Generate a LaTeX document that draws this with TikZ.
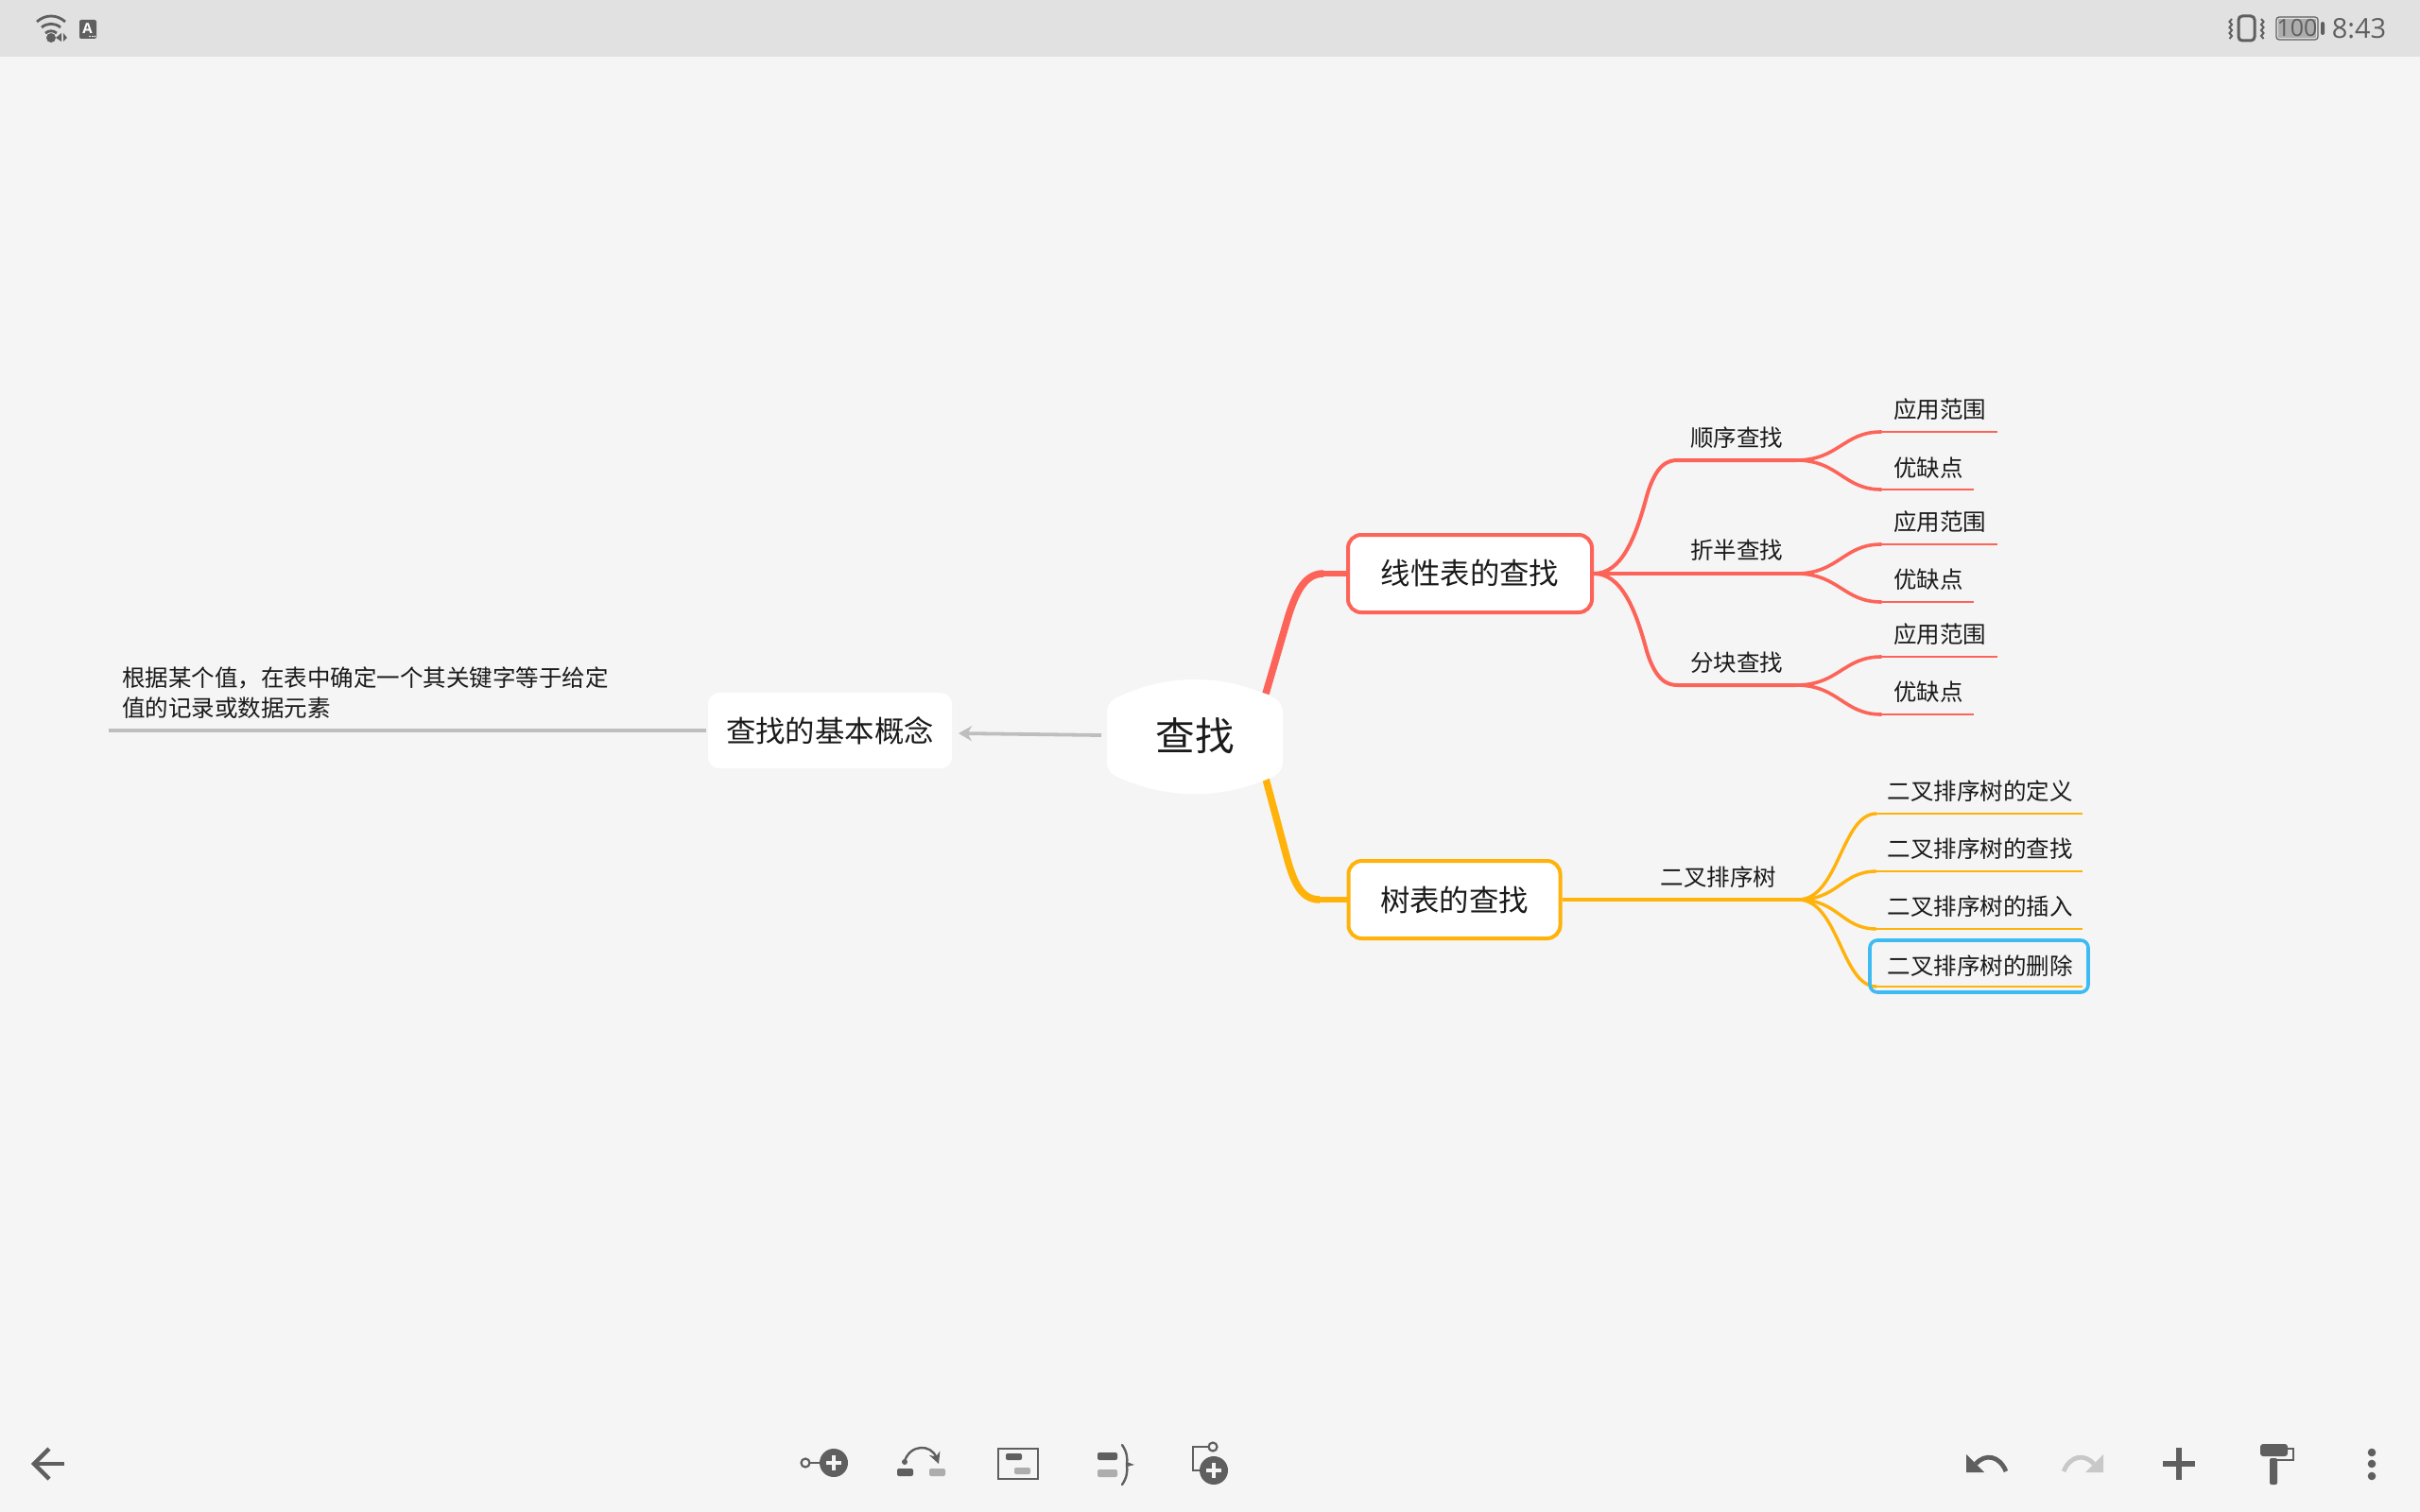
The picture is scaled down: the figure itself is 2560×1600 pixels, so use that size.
\documentclass[tikz,border=0pt]{standalone}
\usepackage{fontspec}
\usetikzlibrary{arrows.meta}
\newfontfamily\cjk{Noto Sans CJK SC}
\newfontfamily\uifont{Open Sans}
\definecolor{bgc}{HTML}{F5F5F5}
\definecolor{barc}{HTML}{E1E1E1}
\definecolor{redc}{HTML}{FD6459}
\definecolor{yelc}{HTML}{FFB20A}
\definecolor{grayc}{HTML}{BEBEBE}
\definecolor{bluec}{HTML}{3DBBF2}
\definecolor{icond}{HTML}{5F5F5F}
\definecolor{iconl}{HTML}{ADADAD}
\definecolor{iconf}{HTML}{C8C8C8}
\definecolor{txt}{HTML}{1A1A1A}
\tikzset{
  rootlabel/.style={font=\cjk\fontsize{20.8}{25}\selectfont,text=txt,inner sep=0pt,minimum width=93pt,minimum height=60pt},
  topicbox/.style={font=\cjk\fontsize{15.7}{20}\selectfont,text=txt,fill=white,rounded corners=7pt,inner sep=0pt,minimum height=41pt,line width=2pt},
  sublabel/.style={font=\cjk\fontsize{12.25}{16}\selectfont,text=txt,inner sep=0pt,anchor=west},
  notelabel/.style={font=\cjk\fontsize{12.25}{16}\selectfont,text=txt,inner sep=0pt,anchor=west,align=left},
  wirea/.style={line width=3.8pt,line cap=butt},
  wireb/.style={line width=2.9pt,line cap=butt},
  wirec/.style={line width=2pt,line cap=round},
  wired/.style={line width=1.2pt},
  wiree/.style={line width=1.7pt},
  iconline/.style={draw=icond,line width=1.1pt},
  bigplus/.style={draw=bgc,line width=1.6pt}
}
\begin{document}
\begin{tikzpicture}[x=0.5pt,y=-0.5pt]
\useasboundingbox (0,0) rectangle (2560,1600);
\fill[bgc] (0,0) rectangle (2560,1600);
\fill[barc] (0,0) rectangle (2560,60);

% ---------- named free ends
\coordinate (rootNE) at (1339,734);
\coordinate (rootSE) at (1339,824);
\coordinate (seqJ) at (1900,487);
\coordinate (binJ) at (1900,607);
\coordinate (blkJ) at (1900,725);
\coordinate (bstJ) at (1902,952);

% ---------- topic nodes
\node[topicbox,draw=redc,minimum width=129pt] (linear) at (1555,607) {\raisebox{1.4pt}{线性表的查找}};
\node[topicbox,draw=yelc,minimum width=112pt] (tree) at (1538.5,952) {\raisebox{1.1pt}{树表的查找}};
\node[topicbox,rounded corners=6pt,minimum width=129pt,minimum height=40pt] (basic) at (878,773) {\raisebox{0.6pt}{查找的基本概念}};

% ---------- main branches
\draw[redc,wirea] (rootNE) -- (1362,655) .. controls (1371,625) and (1381,607) .. (1400,607);
\draw[redc,wireb] (1398,607) -- (linear.west);
\draw[yelc,wirea] (rootSE) -- (1358,895) .. controls (1367,930) and (1374,952) .. (1396,952);
\draw[yelc,wireb] (1394,952) -- (tree.west);

% ---------- red second level
\draw[redc,wirec] (linear.east) .. controls (1715,607) and (1730,570) .. (1742,525) .. controls (1752,490) and (1765,487) .. (1775,487) -- (seqJ);
\draw[redc,wirec] (linear.east) -- (binJ);
\draw[redc,wirec] (linear.east) .. controls (1715,607) and (1730,644) .. (1742,689) .. controls (1752,722) and (1765,725) .. (1775,725) -- (blkJ);

\foreach \j/\uy/\my/\ly/\nn in {seqJ/457/487/518/a,binJ/576/607/637/b,blkJ/695/725/756/c}{
  \coordinate (end\nn1) at (2113,\uy);
  \coordinate (end\nn2) at (2088,\ly);
  \coordinate (bend\nn1) at (1990,\uy);
  \coordinate (bend\nn2) at (1990,\ly);
  \draw[redc,wirec,line width=1.8pt] (\j) .. controls (1945,\my) and (1950,\uy) .. (bend\nn1);
  \draw[redc,wirec,line width=1.8pt] (\j) .. controls (1945,\my) and (1950,\ly) .. (bend\nn2);
  \draw[redc,wired] (bend\nn1) -- (end\nn1);
  \draw[redc,wired] (bend\nn2) -- (end\nn2);
}

% ---------- yellow second level
\draw[yelc,wiree,line width=2.2pt] (tree.east) -- (bstJ);
\foreach \yy/\nn in {861/p,922/q,983/r,1044/s}{
  \coordinate (ybend\nn) at (1985,\yy);
  \coordinate (yend\nn) at (2203,\yy);
  \draw[yelc,wiree] (bstJ) .. controls (1945,952) and (1948,\yy) .. (ybend\nn);
  \draw[yelc,wired,line width=1.4pt] (ybend\nn) -- (yend\nn);
}

% ---------- selected box
\node[draw=bluec,line width=1.8pt,rounded corners=4pt,minimum width=115.5pt,minimum height=27.5pt,inner sep=0pt] (selbox) at (2093.5,1022.5) {};

% ---------- labels
\node[sublabel] (seq) at (1788,463) {顺序查找};
\node[sublabel] (bin) at (1788,582) {折半查找};
\node[sublabel] (blk) at (1788,701) {分块查找};
\node[sublabel] (a1) at (2003,433) {应用范围};
\node[sublabel] (a2) at (2003,495) {优缺点};
\node[sublabel] (b1) at (2003,552) {应用范围};
\node[sublabel] (b2) at (2003,613) {优缺点};
\node[sublabel] (c1) at (2003,671) {应用范围};
\node[sublabel] (c2) at (2003,732) {优缺点};
\node[sublabel] (bst) at (1756.5,928) {二叉排序树};
\node[sublabel] (t1) at (1996.5,837) {二叉排序树的定义};
\node[sublabel] (t2) at (1996.5,898) {二叉排序树的查找};
\node[sublabel] (t3) at (1996.5,959) {二叉排序树的插入};
\node[sublabel] (t4) at (1996.5,1022) {二叉排序树的删除};

% ---------- root
\fill[white] (1171,755) .. controls (1171,745) and (1176,740) .. (1184,737)
  .. controls (1235,713) and (1293,713) .. (1344,737)
  .. controls (1352,740) and (1357,745) .. (1357,755)
  -- (1357,805) .. controls (1357,815) and (1352,820) .. (1344,823)
  .. controls (1293,846) and (1235,846) .. (1184,823)
  .. controls (1176,820) and (1171,815) .. (1171,805) -- cycle;
\node[rootlabel] (root) at (1264,779) {查找};

% ---------- left side
\coordinate (noteEnd) at (115,773);
\coordinate (arrTail) at (1165,778);
\coordinate (arrTip) at (1014,776);
\node[notelabel] (note) at (129,733.5) {根据某个值，在表中确定一个其关键字等于给定\\值的记录或数据元素};
\draw[grayc,line width=1.9pt] (basic.west) -- (noteEnd);
\draw[grayc,line width=1.9pt,-{Stealth[length=7pt,width=8pt]}] (arrTail) -- (arrTip);

% ---------- status bar left
\begin{scope}[icond,line width=1.4pt]
  \draw (39,23) .. controls (48,15) and (60,15) .. (69,23);
  \draw (44,29) .. controls (50,24) and (58,24) .. (64,29);
  \draw (48,35) .. controls (52,32) and (56,32) .. (60,35);
\end{scope}
\fill[icond] (54,40) circle (5);
\fill[icond] (65,35) -- (65,44) -- (59,40) -- cycle;
\fill[icond] (67,35) -- (67,44) -- (71,40) -- cycle;
\fill[icond,rounded corners=1pt] (84,21) rectangle (102,41);
\node[font=\uifont\bfseries\fontsize{7.5}{8}\selectfont,text=white,inner sep=0pt] (aicon) at (92.5,30) {A};
\foreach \xx in {95,98,100.5} \fill[white] (\xx,38.5) circle (0.9);

% ---------- status bar right
\draw[icond,line width=1.5pt,rounded corners=2pt] (2368,17) rectangle (2385,43);
\foreach \sx/\dd in {2361/-1,2392/1}{
  \draw[icond,line width=1pt] (\sx,20) -- ++(\dd*2.5,3) -- ++(-\dd*2.5,3) -- ++(\dd*2.5,3) -- ++(-\dd*2.5,3) -- ++(\dd*2.5,3) -- ++(-\dd*2.5,3) -- ++(\dd*2.5,3);
}
\fill[iconl] (2410,20) rectangle (2450,40);
\draw[icond,line width=0.6pt,rounded corners=1.5pt] (2408,18) rectangle (2452,42);
\fill[icond,rounded corners=1pt] (2455,23) rectangle (2459,37);
\node[font=\uifont\fontsize{12.5}{14}\selectfont,text=icond,inner sep=0pt] (batt) at (2430,30) {100};
\node[font=\uifont\fontsize{14.5}{16}\selectfont,text=icond,inner sep=0pt] (clock) at (2495.5,30) {8:43};

% ---------- bottom left: back arrow
\draw[icond,line width=2.2pt] (68,1549) -- (36,1549);
\draw[icond,line width=2.2pt] (52,1533) -- (36,1549) -- (52,1565);

% ---------- icon 1
\draw[iconline] (852,1548) circle (4.5);
\draw[iconline] (856.5,1548) -- (870,1548);
\fill[icond] (882,1548) circle (15);
\draw[bigplus] (874,1548) -- (890,1548) (882,1540) -- (882,1556);

% ---------- icon 2
\draw[icond,line width=1.2pt,-{Stealth[length=6pt,width=6pt]}] (957,1546) .. controls (963,1528) and (985,1528) .. (993,1549);
\fill[icond] (957,1547) circle (3);
\fill[icond,rounded corners=1pt] (949,1554) rectangle (966,1562);
\fill[iconl,rounded corners=1pt] (983,1554) rectangle (1000,1562);

% ---------- icon 3
\draw[iconline] (1056,1533) rectangle (1098,1565);
\fill[icond,rounded corners=1pt] (1064,1538) rectangle (1081,1545);
\fill[iconl,rounded corners=1pt] (1073,1553) rectangle (1090,1560);

% ---------- icon 4
\fill[icond,rounded corners=1pt] (1161,1537) rectangle (1182,1545);
\fill[iconl,rounded corners=1pt] (1161,1555) rectangle (1182,1563);
\draw[icond,line width=1.2pt,line cap=round] (1187,1529) .. controls (1192,1536) and (1193,1543) .. (1192,1550) .. controls (1193,1557) and (1192,1564) .. (1187,1571);
\fill[icond] (1192,1547) -- (1200,1550) -- (1192,1552) -- cycle;

% ---------- icon 5
\draw[iconline] (1283,1531) circle (4.5);
\draw[iconline] (1278.5,1531) -- (1262,1531) -- (1262,1556) -- (1270,1556);
\fill[icond] (1284,1556) circle (15);
\draw[bigplus] (1276,1556) -- (1292,1556) (1284,1548) -- (1284,1564);

% ---------- undo / redo
\draw[icond,line width=2.4pt] (2090,1549) .. controls (2100,1538) and (2115,1540) .. (2122,1557);
\fill[icond] (2080,1539) -- (2080,1558) -- (2099,1558) -- cycle;
\draw[iconf,line width=2.4pt] (2215,1549) .. controls (2205,1538) and (2190,1540) .. (2183,1557);
\fill[iconf] (2225,1539) -- (2225,1558) -- (2206,1558) -- cycle;

% ---------- plus
\draw[icond,line width=2.6pt] (2288,1549) -- (2322,1549) (2305,1532) -- (2305,1566);

% ---------- paint roller
\fill[icond,rounded corners=1.5pt] (2391,1528) rectangle (2420,1541);
\draw[icond,line width=0.9pt] (2420,1533) -- (2426,1533) -- (2426,1545) -- (2405,1545);
\fill[icond,rounded corners=1pt] (2401,1543) rectangle (2409,1571);

% ---------- dots
\foreach \yy in {1537,1549,1562} \fill[icond] (2509,\yy) circle (4.3);
\end{tikzpicture}
\end{document}
